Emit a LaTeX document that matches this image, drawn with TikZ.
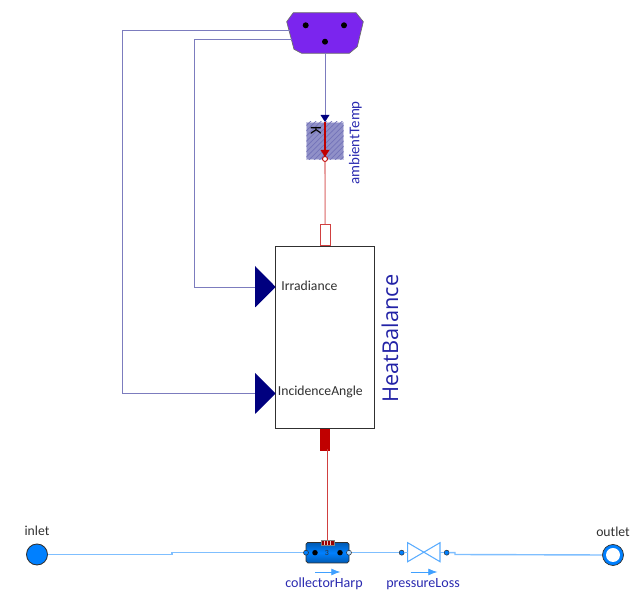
\documentclass[tikz,border=0pt]{standalone}
\usepackage{fontspec}
\setmainfont{Carlito}
\newfontfamily\headfont{Open Sans}
\usetikzlibrary{arrows.meta,patterns,calc}
\definecolor{ink}{HTML}{303030}
\definecolor{signal}{HTML}{00007F}
\definecolor{signalwire}{HTML}{7C7CBE}
\definecolor{weather}{HTML}{7B25EE}
\definecolor{heatred}{HTML}{C00000}
\definecolor{heatwire}{HTML}{E8A0A0}
\definecolor{fluid}{HTML}{0080FF}
\definecolor{fluidwire}{HTML}{7FBFFF}
\definecolor{namecol}{HTML}{2A2AB0}
\newcommand{\px}{0.02cm}
\tikzset{
  signalline/.style={draw=signalwire,line width=0.55pt},
  heatline/.style={draw=heatwire,line width=0.9pt},
  fluidline/.style={draw=fluidwire,line width=0.8pt},
  portdot/.style={circle,fill=black,inner sep=0pt,minimum size=6*\px},
  fluiddot/.style={circle,draw=ink,fill=fluid,line width=0.3pt,inner sep=0pt,minimum size=5*\px},
  lbl/.style={text=ink,font=\fontsize{7.8}{9}\selectfont,inner sep=0pt},
  namelbl/.style={text=namecol,font=\fontsize{8}{9}\selectfont,inner sep=0pt}
}
\begin{document}
\begin{tikzpicture}[x=\px,y=-\px,>=Latex]
  \useasboundingbox (0,0) rectangle (633,590);

  % Weather reader
  \fill[weather,draw=ink!70,line width=0.4pt]
    (293.3,12.7) -- (356,12.7) -- (363.3,21.7) -- (357.3,46.7) -- (349.3,53.3)
    -- (301.7,53.3) -- (294,49.3) -- (286.7,21.7) -- cycle;
  \node[portdot] (dotLeft) at (305.7,25.3) {};
  \node[portdot] (dotRight) at (344,25.3) {};
  \node[portdot] (dotDown) at (325,41.7) {};
  \coordinate (weatherA) at (290,30.7);
  \coordinate (weatherB) at (292,39);
  \coordinate (weatherC) at (325,53.3);

  % Heat balance block
  \node[draw=ink,line width=0.6pt,fill=white,minimum width=99*\px,minimum height=182*\px,
        inner sep=0pt] (balance) at (325.2,337.3) {};
  \node[rotate=90,text=namecol!80!signal,font=\headfont\fontsize{12.4}{14}\selectfont,inner sep=0pt]
    (balanceName) at (390,338.5) {HeatBalance};
  \node[draw=heatred!75,line width=0.5pt,fill=white,minimum width=10.5*\px,minimum height=21*\px,
        inner sep=0pt,anchor=south] (heatTop) at (balance.north) {};
  \node[fill=heatred,minimum width=10.5*\px,minimum height=22*\px,inner sep=0pt,anchor=north]
    (heatBottom) at (balance.south) {};

  % Signal inputs
  \coordinate (irrTip) at (275.7,287);
  \coordinate (incTip) at (275.7,393.5);
  \fill[signal] (irrTip) -- (255,266) -- (255,307.5) -- cycle;
  \fill[signal] (incTip) -- (255,373) -- (255,414) -- cycle;
  \node[lbl,anchor=west] (irrLabel) at (281,286) {Irradiance};
  \node[lbl,anchor=west] (incLabel) at (277.5,392) {IncidenceAngle};
  \coordinate (irrIn) at (255,287);
  \coordinate (incIn) at (255,393.5);
  \draw[signalline] (weatherA) -| (122,393.5) -- (incIn);
  \draw[signalline] (weatherB) -| (194,287) -- (irrIn);

  % Temperature source
  \node[draw=signalwire!40,line width=0.3pt,fill=signalwire!85,
        minimum width=36.6*\px,minimum height=37.3*\px,inner sep=0pt] (ambientTemp) at (325,140.7) {};
  \fill[pattern=north east lines,pattern color=signal!55]
    (ambientTemp.south west) rectangle (ambientTemp.north east);
  \node[rotate=-90,text=black,font=\fontsize{9}{10}\selectfont,inner sep=0pt] (kelvin) at (316,131) {K};
  \node[rotate=90,namelbl,font=\fontsize{8.5}{9}\selectfont] (ambientName) at (355.5,143) {ambientTemp};
  \node[circle,draw=heatred,fill=white,line width=0.5pt,inner sep=0pt,minimum size=5*\px]
    (tempOut) at (325,159) {};
  \coordinate (tempIn) at (325,115);
  \draw[signalline] (weatherC) -- (tempIn);
  \fill[signal] (325,122) -- (320.5,115) -- (329.5,115) -- cycle;
  \draw[draw=heatred,line width=0.7pt] (325,122) -- (tempOut.north);
  \fill[heatred] (325,157) -- (320.5,150) -- (329.5,150) -- cycle;
  \draw[heatline] (tempOut.south) -- (heatTop.north);

  % Fluid path
  \node[circle,draw=ink,fill=fluid,line width=0.5pt,inner sep=0pt,minimum size=21*\px]
    (inlet) at (37,554.5) {};
  \node[circle,draw=ink,line width=0.4pt,fill=fluid,inner sep=0pt,minimum size=21*\px]
    (outlet) at (613,555) {};
  \node[circle,fill=white,inner sep=0pt,minimum size=14*\px] (outletHole) at (outlet) {};
  \node[lbl] (inletLabel) at (37,530.5) {inlet};
  \node[lbl] (outletLabel) at (613,532) {outlet};

  \node[draw=ink,line width=0.4pt,top color=fluid!70!black,bottom color=fluid!70!black,
        middle color=fluid,rounded corners=1pt,
        minimum width=43*\px,minimum height=20.5*\px,inner sep=0pt] (collectorHarp) at (327.5,552.7) {};
  \node[portdot,minimum size=5.5*\px] (harpLeft) at (315,552.7) {};
  \node[portdot,minimum size=5.5*\px] (harpRight) at (340,552.7) {};
  \node[text=ink,font=\fontsize{4.5}{5}\selectfont,inner sep=0pt] (harpCount) at (327,552.7) {3};
  \node[fluiddot] (harpIn) at (306,552.7) {};
  \node[fluiddot,fill=fluidwire!60] (harpOut) at (349,552.7) {};
  \node[draw=ink!60,line width=0.2pt,fill=heatred!80!black,minimum width=13.5*\px,minimum height=5*\px,
        inner sep=0pt] (harpHeat) at (327.5,542.7) {};
  \foreach \x in {324.5,327.5,330.5}{
    \draw[white!75!heatred,line width=0.3pt] (\x,540.7) -- (\x,544.7);
  }

  \node[fluiddot] (valveIn) at (401.7,552.7) {};
  \node[fluiddot] (valveOut) at (446.7,552.7) {};
  \coordinate (valveL) at (407.7,552.7);
  \coordinate (valveR) at (440,552.7);
  \draw[fluid!65!white,line width=0.6pt,fill=white] (407.7,542.7) -- (440,561.7) -- (440,542.7)
    -- (407.7,561.7) -- cycle;

  \draw[fluidline] (inlet.east) -- (172,554.5) -- (172,552.7) -- (harpIn.west);
  \draw[fluidline] (harpOut.east) -- (valveIn.west);
  \draw[fluidline] (valveIn.east) -- (valveL);
  \draw[fluidline] (valveR) -- (valveOut.west);
  \draw[fluidline] (valveOut.east) -- (455,552.7) -- (455,554.5) -- (outlet.west);
  \draw[draw=heatred!75!white,line width=0.5pt] (327.5,449) -- (harpHeat.north);

  \draw[->,fluid!75!white,line width=0.5pt] (315,572) -- (340.5,572);
  \draw[->,fluid!75!white,line width=0.5pt] (410.5,572) -- (437.5,572);
  \node[namelbl] (harpName) at (324,584) {collectorHarp};
  \node[namelbl] (lossName) at (423,584) {pressureLoss};
\end{tikzpicture}
\end{document}
